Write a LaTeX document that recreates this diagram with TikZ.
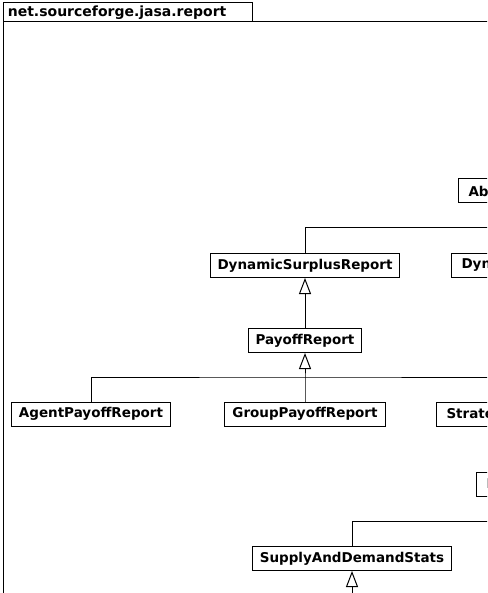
\documentclass[tikz,border=0pt]{standalone}
\usepackage{fontspec}
\setmainfont{DejaVu Sans}
\usetikzlibrary{arrows.meta}

\begin{document}
\begin{tikzpicture}[x=1pt,y=-1pt,line width=1pt,font=\fontsize{13.5}{15}\selectfont\bfseries,
  cls/.style={draw,fill=white,minimum height=24,inner xsep=7.5pt},
  clipped/.style={cls,anchor=west,minimum width=120,text width=100,align=left},
  gen/.style={-{Triangle[open,width=12pt,length=16pt]}}]
\useasboundingbox (0,0) rectangle (487,593);
\clip (0,0) rectangle (487,593);
% package frame
\draw (3,3) rectangle (252,22);
\draw (3,22) rectangle (600,700);
\node[anchor=west,font=\fontsize{14}{16}\selectfont\bfseries] (pkg) at (4,12.5) {net.sourceforge.jasa.report};
% classes
\node[clipped] (abs) at (458,191) {Abs};
\node[cls] (dsr) at (305,265.5) {DynamicSurplusReport};
\node[clipped] (dyn) at (451,265.5) {Dyn};
\node[cls] (pr) at (305,340.5) {PayoffReport};
\node[cls] (apr) at (91,414) {AgentPayoffReport};
\node[cls] (gpr) at (305,414) {GroupPayoffReport};
\node[clipped] (str) at (436,414) {Strate};
\node[clipped] (ir) at (476,484) {I};
\node[cls] (sds) at (352,558.5) {SupplyAndDemandStats};
% generalisations
\coordinate (ae) at (500,228);
\draw (dsr.north) |- (ae);
\coordinate (pj) at (pr.south |- 0,377);
\coordinate (pe) at (500,377);
\draw[gen] (gpr.north) -- (pj) -- (pr.south);
\draw (apr.north) |- (pj) -- (pe);
\draw[gen] (pr.north) -- (dsr.south);
\coordinate (se) at (500,521);
\draw (sds.north) |- (se);
\coordinate (sb) at (sds.south |- 0,600);
\draw[gen] (sb) -- (sds.south);
\end{tikzpicture}
\end{document}
